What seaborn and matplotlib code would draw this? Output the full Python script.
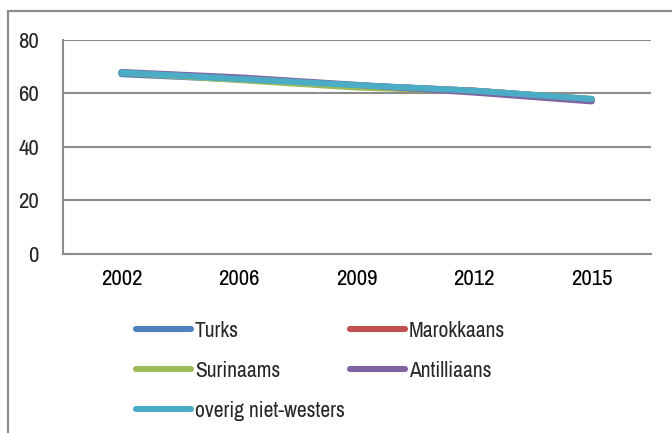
import matplotlib
matplotlib.use("Agg")
import matplotlib.pyplot as plt
from matplotlib.lines import Line2D
import seaborn as sns
import pandas as pd

years = ["2002", "2006", "2009", "2012", "2015"]
series_names = ["Turks", "Marokkaans", "Surinaams", "Antilliaans", "overig niet-westers"]
turks = [67.2, 65.2, 63.0, 61.0, 57.8]
marokkaans = [67.8, 65.3, 63.0, 61.0, 57.8]
surinaams = [67.8, 65.0, 62.2, 60.8, 57.9]
antilliaans = [68.0, 66.0, 63.2, 60.3, 57.0]
overig = [67.8, 65.4, 63.1, 61.0, 57.9]
colors = ["#4F81BD", "#C0504D", "#9BBB59", "#8064A2", "#4BACC6"]
yticks = [0, 20, 40, 60, 80]

sns.set_theme(style="white")
plt.rcParams["font.family"] = ["Archivo Narrow", "Liberation Sans", "DejaVu Sans"]
FS = 16.5
LFS = 15.5

values = [turks, marokkaans, surinaams, antilliaans, overig]
rows = []
for name, vals in zip(series_names, values):
    for y, v in zip(years, vals):
        rows.append({"jaar": y, "waarde": v, "groep": name})
df = pd.DataFrame(rows)

fig = plt.figure(figsize=(6.72, 4.33), dpi=100)
ax = fig.add_axes([62.6 / 672, 1 - 253.5 / 433, (650.6 - 62.6) / 672, (253.5 - 40) / 433])

sns.lineplot(data=df, x="jaar", y="waarde", hue="groep", hue_order=series_names,
             palette=colors, linewidth=4.4, legend=False, ax=ax, sort=False)
for ln in ax.get_lines():
    ln.set_solid_capstyle("round")

grid_c = "#8C8C8C"
ax.set_xlim(-0.5, len(years) - 0.5)
ax.set_ylim(0, 80)
ax.set_yticks(yticks)
ax.set_yticklabels([str(t) for t in yticks], fontsize=FS)
ax.set_xticks(range(len(years)))
ax.set_xticklabels(years, fontsize=FS)
ax.set_xticks([i - 0.5 for i in range(len(years) + 1)], minor=True)
ax.tick_params(axis="x", which="major", length=0, pad=11, colors="black")
ax.tick_params(axis="x", which="minor", length=6, width=1.5, color=grid_c, direction="out")
ax.tick_params(axis="y", which="major", length=6, width=1.5, color=grid_c, pad=11, direction="out")
ax.set_xlabel("")
ax.set_ylabel("")
ax.yaxis.grid(True, color=grid_c, linewidth=1.5)
ax.set_axisbelow(True)
for s in ["top", "right"]:
    ax.spines[s].set_visible(False)
for s in ["left", "bottom"]:
    ax.spines[s].set_color(grid_c)
    ax.spines[s].set_linewidth(1.5)

fig.add_artist(Line2D([7.5 / 672, 7.5 / 672], [0, 1 - 10.5 / 433], transform=fig.transFigure,
                      color="#8C8C8C", linewidth=1.6))
fig.add_artist(Line2D([7.5 / 672, 1], [1 - 10.5 / 433, 1 - 10.5 / 433], transform=fig.transFigure,
                      color="#8C8C8C", linewidth=1.6))

order = [0, 2, 4, 1, 3]
handles = [Line2D([], [], color=colors[i], linewidth=4.4, solid_capstyle="round") for i in order]
labels = [series_names[i] for i in order]
fig.legend(handles, labels, ncol=2, loc="upper left", bbox_to_anchor=(136 / 672, 1 - 321 / 433),
           frameon=False, fontsize=LFS, handlelength=2.55, handletextpad=0.19,
           columnspacing=0.23, labelspacing=0.92, borderpad=0, borderaxespad=0)

fig.savefig("out.png", dpi=100)
